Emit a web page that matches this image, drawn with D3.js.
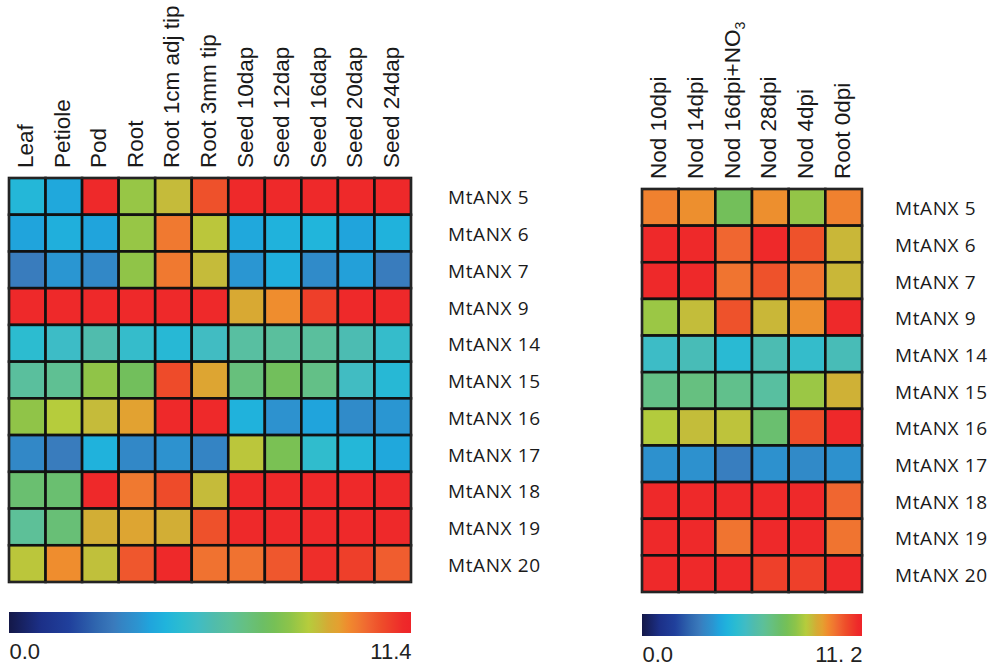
<!DOCTYPE html>
<html><head><meta charset="utf-8">
<script src="https://cdn.jsdelivr.net/npm/d3@7"></script>
<style>body{margin:0;background:#fff}</style>
</head><body><svg id="c" width="995" height="669"></svg>
<script>
const genes = ["MtANX 5","MtANX 6","MtANX 7","MtANX 9","MtANX 14","MtANX 15","MtANX 16","MtANX 17","MtANX 18","MtANX 19","MtANX 20"];
const tissues = ["Leaf","Petiole","Pod","Root","Root 1cm adj tip","Root 3mm tip","Seed 10dap","Seed 12dap","Seed 16dap","Seed 20dap","Seed 24dap"];
const nodules = ["Nod 10dpi","Nod 14dpi","Nod 16dpi+NO3","Nod 28dpi","Nod 4dpi","Root 0dpi"];
const tissueValues = [
  [4.6, 4.1, 11.2, 8.1, 8.8, 10.5, 11.2, 11.2, 11.2, 11.2, 11.2],
  [4.0, 4.3, 4.0, 8.1, 9.9, 8.6, 4.1, 4.4, 4.5, 4.0, 4.4],
  [3.0, 3.7, 3.3, 8.0, 9.9, 8.8, 3.7, 4.3, 3.4, 3.9, 3.0],
  [11.2, 11.2, 11.2, 11.2, 11.2, 11.2, 9.1, 9.6, 10.8, 11.2, 11.2],
  [4.9, 5.3, 5.8, 5.1, 4.7, 5.4, 6.1, 6.2, 6.2, 5.7, 5.1],
  [6.2, 6.4, 8.0, 7.4, 10.6, 9.2, 6.8, 7.4, 6.6, 5.4, 4.7],
  [8.0, 8.5, 8.8, 9.3, 11.2, 11.2, 4.4, 3.6, 4.0, 3.4, 3.7],
  [3.3, 3.0, 4.4, 3.3, 3.6, 3.2, 8.6, 7.6, 5.0, 4.6, 4.1],
  [7.0, 7.0, 11.2, 9.9, 10.6, 8.8, 11.2, 11.2, 11.2, 11.2, 11.2],
  [6.3, 6.9, 9.0, 9.2, 9.0, 10.5, 11.2, 11.2, 11.2, 11.2, 11.2],
  [8.6, 9.6, 8.7, 10.4, 11.2, 10.0, 10.0, 10.4, 11.1, 10.8, 10.3]
];
const noduleValues = [
  [9.6, 9.4, 7.3, 9.4, 7.9, 9.6],
  [11.0, 11.0, 10.0, 11.0, 10.3, 8.7],
  [11.0, 11.0, 9.8, 10.3, 9.8, 8.7],
  [8.0, 8.6, 10.3, 8.7, 9.4, 11.0],
  [5.2, 5.5, 4.7, 5.6, 5.0, 5.5],
  [6.5, 6.6, 6.4, 6.0, 8.0, 8.8],
  [8.3, 8.6, 8.5, 6.9, 10.4, 11.0],
  [3.5, 3.5, 3.0, 3.5, 3.3, 3.5],
  [11.0, 11.0, 11.0, 11.0, 11.0, 10.0],
  [11.0, 11.0, 9.8, 11.0, 11.0, 9.8],
  [11.0, 11.0, 11.0, 10.6, 10.6, 11.0]
];
const tissueMax = 11.4;
const noduleMax = 11.2;
const tissueScaleLabels = ["0.0", "11.4"];
const noduleScaleLabels = ["0.0", "11. 2"];

// palette (fraction of max -> colour)
const paletteT = [0,0.08,0.15,0.22,0.26,0.28,0.32,0.35,0.39,0.43,0.47,0.51,0.55,0.59,0.63,0.66,0.70,0.745,0.77,0.795,0.82,0.845,0.87,0.90,0.925,0.955,0.98,1];
const paletteC = ["#141848","#1c3088","#20409c","#3068b0","#3a7abc","#3484c4","#2c94d0","#20a4dc","#20b4dc","#2cbcd0","#40bcc4","#50bcac","#5cc09a","#66c080","#6cbe66","#76c056","#8ec449","#b6cc3c","#c4bc3a","#d6aa34","#e4a030","#f08a2e","#f07830","#f06030","#ee4e2a","#ee3a2a","#ee2a2a","#ee2429"];

const svg = d3.select("#c");
svg.append("rect").attr("width",995).attr("height",669).attr("fill","#fff");
const defs = svg.append("defs");

function panel(cfg) {
  const x = d3.scaleBand().domain(cfg.cols).range(cfg.xr);
  const y = d3.scaleBand().domain(genes).range(cfg.yr);
  const color = d3.scaleLinear().domain(paletteT.map(t => t * cfg.max)).range(paletteC).clamp(true);
  const g = svg.append("g");
  const cells = [];
  cfg.values.forEach((row, i) => row.forEach((v, j) => cells.push({gene: genes[i], col: cfg.cols[j], v})));
  g.selectAll("rect.cell").data(cells).join("rect").attr("class","cell")
    .attr("x", d => x(d.col)).attr("y", d => y(d.gene))
    .attr("width", x.bandwidth()).attr("height", y.bandwidth())
    .attr("fill", d => color(d.v)).attr("stroke", "#111").attr("stroke-width", 2.6);
  g.append("rect").attr("x", cfg.xr[0]).attr("y", cfg.yr[0])
    .attr("width", cfg.xr[1]-cfg.xr[0]).attr("height", cfg.yr[1]-cfg.yr[0])
    .attr("fill","none").attr("stroke","#333").attr("stroke-width",1.2);

  // column headers
  const top = svg.append("g").attr("transform", `translate(0,${cfg.headerBottom})`)
    .call(d3.axisTop(x).tickSize(0).tickFormat(""));
  top.select(".domain").remove();
  top.selectAll(".tick text").each(function(d) {
    const t = d3.select(this).attr("transform","rotate(-90)").attr("x",0).attr("y",6).attr("dy",0)
      .attr("text-anchor","start").attr("font-family","'Liberation Sans', Arial, sans-serif")
      .attr("font-size",22.5).attr("fill","#1a1a1a");
    const m = d.match(/^(.*NO)(\d)$/);
    if (m) {
      t.append("tspan").text(m[1]);
      t.append("tspan").text(m[2]).attr("font-size",14).attr("dy",5);
    } else t.text(d);
  });

  // row labels
  const right = svg.append("g").attr("transform", `translate(${cfg.labelX},2)`)
    .call(d3.axisRight(y).tickSize(0).tickPadding(0));
  right.select(".domain").remove();
  right.selectAll(".tick text").attr("font-family","'Open Sans', sans-serif")
    .attr("font-size",19).attr("letter-spacing",0.6).attr("fill","#1a1a1a");

  // colour bar
  const id = "grad" + cfg.id;
  const lg = defs.append("linearGradient").attr("id", id);
  lg.selectAll("stop").data(paletteT).join("stop")
    .attr("offset", d => d).attr("stop-color", (d, i) => paletteC[i]);
  const cx = d3.scaleLinear().domain([0, cfg.max]).range(cfg.xr);
  svg.append("rect").attr("x", cfg.xr[0]).attr("y", cfg.barY)
    .attr("width", cfg.xr[1]-cfg.xr[0]).attr("height", cfg.barH).attr("fill", `url(#${id})`);
  const ax = svg.append("g").attr("transform", `translate(0,${cfg.barY + cfg.barH})`)
    .call(d3.axisBottom(cx).tickValues([0, cfg.max]).tickSize(0).tickPadding(10)
      .tickFormat((d, i) => cfg.scaleLabels[i]));
  ax.select(".domain").remove();
  ax.selectAll(".tick text").attr("font-family","'Liberation Sans', Arial, sans-serif")
    .attr("font-size",22).attr("fill","#222")
    .attr("text-anchor", (d, i) => i === 0 ? "start" : "end");
}

panel({id: "L", cols: tissues, values: tissueValues, max: tissueMax, xr: [9, 411], yr: [178, 582],
  headerBottom: 168, labelX: 448, barY: 612, barH: 21, scaleLabels: tissueScaleLabels});
panel({id: "R", cols: nodules, values: noduleValues, max: noduleMax, xr: [642, 862], yr: [189, 592],
  headerBottom: 179, labelX: 895, barY: 614, barH: 22, scaleLabels: noduleScaleLabels});
</script></body></html>
